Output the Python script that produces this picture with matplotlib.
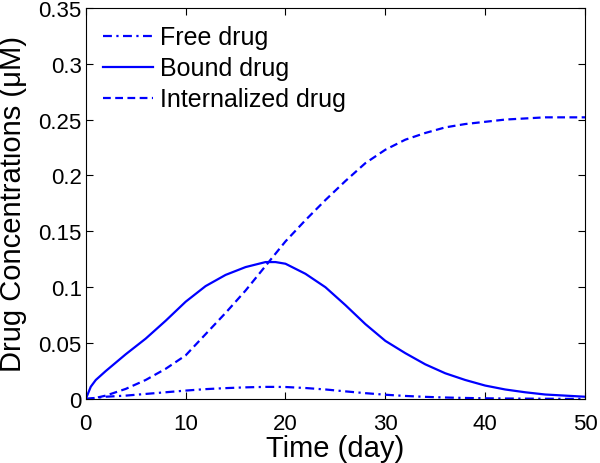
import matplotlib
matplotlib.use("Agg")
import matplotlib.pyplot as plt

plt.rcParams['font.family'] = ['Liberation Sans', 'DejaVu Sans']

# time points (day) and concentrations (uM)
t = [0, 0.5, 1, 2, 4, 6, 8, 10, 12, 14, 16, 18, 19, 20, 22, 24, 26, 28, 30,
     32, 34, 36, 38, 40, 42, 44, 46, 48, 50]
free_drug = [0, 0.0005, 0.001, 0.002, 0.003, 0.0045, 0.006, 0.0075, 0.0088,
             0.0097, 0.0104, 0.0108, 0.0108, 0.0107, 0.0098, 0.0085, 0.0068,
             0.0052, 0.0038, 0.0027, 0.0019, 0.0013, 0.0009, 0.0006, 0.0004,
             0.0003, 0.0002, 0.0001, 0.0001]
bound_drug = [0, 0.011, 0.017, 0.025, 0.040, 0.054, 0.070, 0.087, 0.101,
              0.111, 0.118, 0.1225, 0.1225, 0.121, 0.112, 0.100, 0.084, 0.067,
              0.052, 0.041, 0.031, 0.023, 0.017, 0.012, 0.0085, 0.006, 0.004,
              0.003, 0.002]
internalized_drug = [0, 0.0003, 0.001, 0.003, 0.009, 0.017, 0.027, 0.039,
                     0.058, 0.077, 0.097, 0.119, 0.130, 0.141, 0.160, 0.178,
                     0.195, 0.211, 0.223, 0.232, 0.238, 0.243, 0.246, 0.248,
                     0.250, 0.251, 0.252, 0.252, 0.252]

x_ticks = [0, 10, 20, 30, 40, 50]
y_ticks = [0, 0.05, 0.1, 0.15, 0.2, 0.25, 0.3, 0.35]
y_labels = ['0', '0.05', '0.1', '0.15', '0.2', '0.25', '0.3', '0.35']

fig = plt.figure(figsize=(6, 4.64), dpi=100)
ax = fig.add_axes([0.143, 0.138, 0.832, 0.843])

blue = '#0000ff'
ax.plot(t, free_drug, color=blue, lw=1.6, linestyle=(0, (4, 2, 1, 2)), label='Free drug')
ax.plot(t, bound_drug, color=blue, lw=1.6, linestyle='-', label='Bound drug')
ax.plot(t, internalized_drug, color=blue, lw=1.6, linestyle=(0, (3.5, 2)), label='Internalized drug')

ax.set_xlim(0, 50)
ax.set_ylim(0, 0.35)
ax.set_xticks(x_ticks)
ax.set_yticks(y_ticks)
ax.set_yticklabels(y_labels)
ax.tick_params(direction='in', top=True, right=True, labelsize=16, length=5, width=0.8)
ax.tick_params(axis='x', pad=10)
ax.tick_params(axis='y', pad=3)
for s in ax.spines.values():
    s.set_linewidth(0.8)

ax.set_xlabel('Time (day)', fontsize=21, labelpad=0)
ax.set_ylabel('Drug Concentrations (\u03bcM)', fontsize=21)
ax.yaxis.set_label_coords(-0.118, 0.5)

ax.legend(loc='upper left', frameon=False, fontsize=18, handlelength=2.0,
          handletextpad=0.3, labelspacing=0.28, borderpad=0, borderaxespad=0,
          bbox_to_anchor=(0.034, 0.955))

fig.savefig('out.png', dpi=100)
